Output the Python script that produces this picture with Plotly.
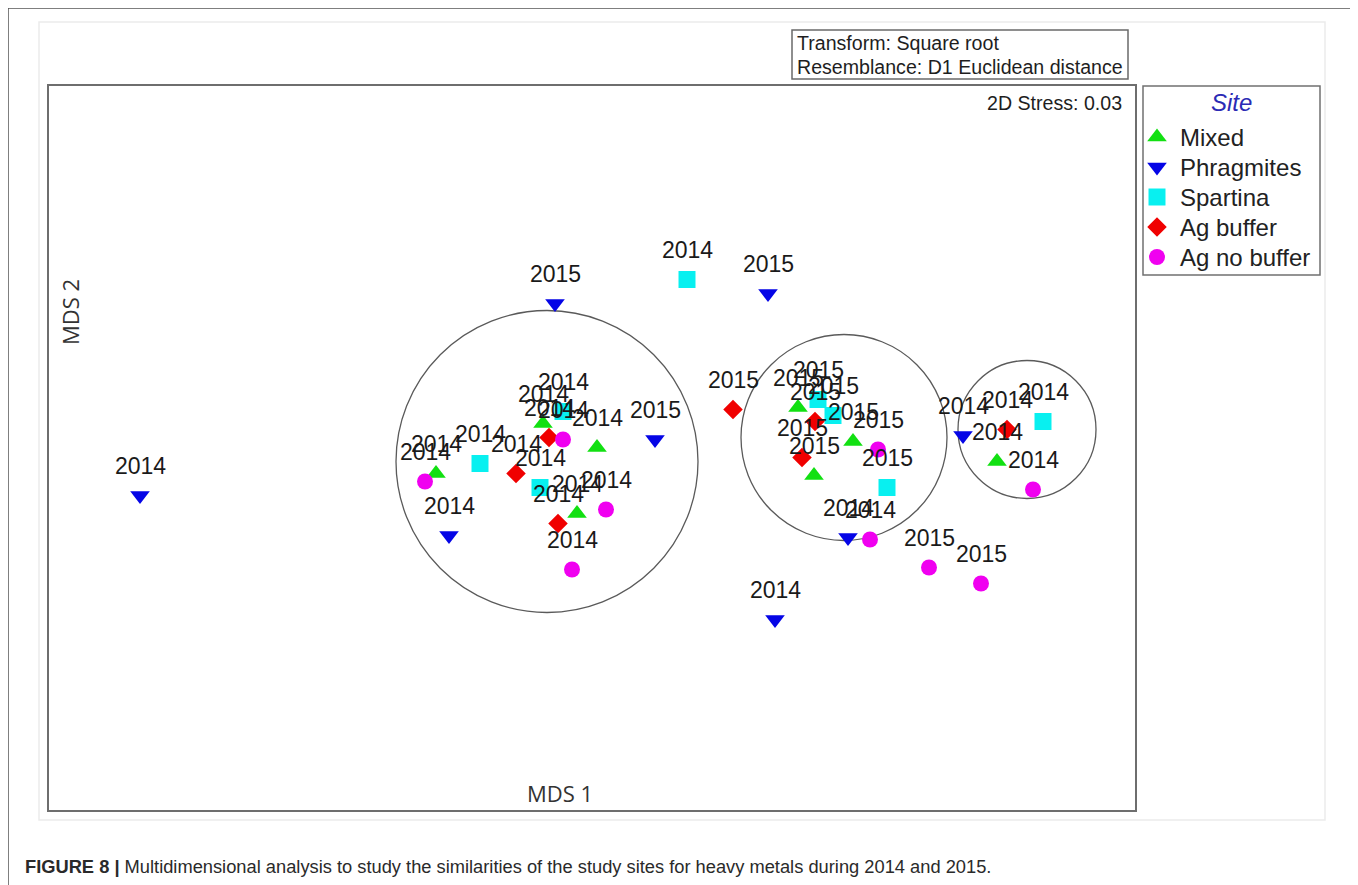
import plotly.graph_objects as go

# ---------------- data (MDS coordinates, arbitrary units) ----------------
mixed_x = [-0.78, -0.245, 0.025, -0.075, 1.03, 1.305, 1.11, 2.025]
mixed_y = [-0.13, 0.12, 0.00, -0.33, 0.20, 0.03, -0.14, -0.07]
mixed_year = ["2014", "2014", "2014", "2014", "2015", "2015", "2015", "2014"]

phrag_x = [-2.26, -0.185, 0.88, 0.315, -0.715, 0.915, 1.28, 1.855]
phrag_y = [-0.24, 0.72, 0.77, 0.04, -0.44, -0.86, -0.45, 0.06]
phrag_year = ["2014", "2015", "2015", "2015", "2014", "2014", "2014", "2014"]

spart_x = [0.475, -0.56, -0.145, -0.26, 1.13, 1.205, 1.475, 2.255]
spart_y = [0.84, -0.08, 0.18, -0.20, 0.24, 0.16, -0.20, 0.13]
spart_year = ["2014", "2014", "2014", "2014", "2015", "2015", "2015", "2014"]

agbuf_x = [0.705, -0.215, -0.38, -0.17, 1.115, 1.05, 2.075]
agbuf_y = [0.19, 0.05, -0.13, -0.38, 0.13, -0.05, 0.09]
agbuf_year = ["2015", "2014", "2014", "2014", "2015", "2015", "2014"]

agnob_x = [-0.835, -0.145, 0.07, -0.10, 1.43, 1.39, 1.685, 1.945, 2.205]
agnob_y = [-0.17, 0.04, -0.31, -0.61, -0.01, -0.46, -0.60, -0.68, -0.21]
agnob_year = ["2014", "2014", "2014", "2014", "2015", "2014", "2015", "2015", "2014"]

# cluster circles: centre x, centre y, radius (MDS units)
circle_cx = [-0.225, 1.26, 2.175]
circle_cy = [-0.07, 0.05, 0.09]
circle_r = [0.755, 0.515, 0.345]

site_names = ["Mixed", "Phragmites", "Spartina", "Ag buffer", "Ag no buffer"]

# ---------------- style ----------------
series = [
    (site_names[0], mixed_x, mixed_y, mixed_year, "triangle-up", "#12e012", 17),
    (site_names[1], phrag_x, phrag_y, phrag_year, "triangle-down", "#0505e6", 17),
    (site_names[2], spart_x, spart_y, spart_year, "square", "#08f0f0", 17),
    (site_names[3], agbuf_x, agbuf_y, agbuf_year, "diamond", "#f00000", 15),
    (site_names[4], agnob_x, agnob_y, agnob_year, "circle", "#f000f0", 16),
]

OFF = 8                      # page body margin
W, H = 1358 - OFF, 885 - OFF


def px(xp):
    return (xp - OFF) / W


def py(yp):
    return 1 - (yp - OFF) / H


fig = go.Figure()
annotations = []
shapes = []

# ---------------- data marks ----------------
for name, xs, ys, yrs, sym, col, sz in series:
    fig.add_trace(go.Scatter(
        x=xs, y=ys, mode="markers", name=name, showlegend=False,
        xaxis="x", yaxis="y",
        marker=dict(symbol=sym, color=col, size=sz, line=dict(width=0)),
        hoverinfo="skip",
    ))
    for xv, yv, t in zip(xs, ys, yrs):
        annotations.append(dict(
            x=xv, y=yv, xref="x", yref="y", text=t, showarrow=False,
            yshift=30, font=dict(family="Arial, Liberation Sans", size=23, color="#1a1a1a"),
        ))

for cx, cy, r in zip(circle_cx, circle_cy, circle_r):
    shapes.append(dict(type="circle", xref="x", yref="y",
                       x0=cx - r, x1=cx + r, y0=cy - r, y1=cy + r,
                       line=dict(color="#5a5a5a", width=1.3), layer="below"))

# ---------------- legend (drawn in its own small axes) ----------------
LEG_L, LEG_R, LEG_T, LEG_B = 1143, 1320, 86, 275
leg_w, leg_h = LEG_R - LEG_L, LEG_B - LEG_T
for i, (name, xs, ys, yrs, sym, col, sz) in enumerate(series):
    yy = 51 + 30 * i
    fig.add_trace(go.Scatter(
        x=[14], y=[yy], mode="markers", showlegend=False, xaxis="x2", yaxis="y2",
        marker=dict(symbol=sym, color=col, size=sz, line=dict(width=0)), hoverinfo="skip",
    ))
    annotations.append(dict(x=35, y=yy, xref="x2", yref="y2", xanchor="left", yanchor="middle",
                            text=name, showarrow=False,
                            font=dict(family="Arial, Liberation Sans", size=24, color="#222222")))
annotations.append(dict(x=leg_w / 2, y=16, xref="x2", yref="y2", xanchor="center", yanchor="middle",
                        text="<i>Site</i>", showarrow=False,
                        font=dict(family="Arial, Liberation Sans", size=24, color="#2b2bb5")))
shapes.append(dict(type="rect", xref="paper", yref="paper",
                   x0=px(LEG_L), x1=px(LEG_R), y0=py(LEG_B), y1=py(LEG_T),
                   line=dict(color="#707070", width=1.5), layer="below"))

# ---------------- decorations ----------------
shapes.append(dict(type="rect", xref="paper", yref="paper",
                   x0=px(39), x1=px(1325), y0=py(820), y1=py(22),
                   line=dict(color="#ebebeb", width=1.5), layer="below"))
for (a, b), (c, d) in [((8, 8), (1355, 8)), ((8, 8), (8, 885)), ((1355, 8), (1355, 885))]:
    shapes.append(dict(type="line", xref="paper", yref="paper",
                       x0=px(a), y0=py(b), x1=px(c), y1=py(d),
                       line=dict(color="#555555", width=1.5)))
shapes.append(dict(type="rect", xref="paper", yref="paper",
                   x0=px(792), x1=px(1128), y0=py(79), y1=py(30),
                   line=dict(color="#6a6a6a", width=1.5), fillcolor="white"))

txt_font = dict(family="Arial, Liberation Sans", size=19.6, color="#1e1e1e")
annotations += [
    dict(x=px(795), y=py(43), xref="paper", yref="paper", xanchor="left", yanchor="middle",
         text="Transform: Square root", showarrow=False, font=txt_font),
    dict(x=px(795), y=py(67), xref="paper", yref="paper", xanchor="left", yanchor="middle",
         text="Resemblance: D1 Euclidean distance", showarrow=False, font=txt_font),
    dict(x=px(1124), y=py(103), xref="paper", yref="paper", xanchor="right", yanchor="middle",
         text="2D Stress: 0.03", showarrow=False, font=txt_font),
    dict(x=px(560), y=py(793), xref="paper", yref="paper", xanchor="center", yanchor="middle",
         text="MDS 1", showarrow=False,
         font=dict(family="Open Sans, Arial", size=22, color="#333333")),
    dict(x=px(70), y=py(312), xref="paper", yref="paper", xanchor="center", yanchor="middle",
         text="MDS 2", showarrow=False, textangle=-90,
         font=dict(family="Open Sans, Arial", size=22, color="#333333")),
    dict(x=px(23), y=py(866), xref="paper", yref="paper", xanchor="left", yanchor="middle",
         text="<b>FIGURE 8 |</b> Multidimensional analysis to study the similarities of the study sites for heavy metals during 2014 and 2015.",
         showarrow=False, font=dict(family="Arial, Liberation Sans", size=18.3, color="#2a2a2a")),
]

axis_common = dict(showgrid=False, zeroline=False, showticklabels=False, ticks="",
                   showline=True, mirror=True, linecolor="#6e6e6e", linewidth=2, fixedrange=True)
hidden_axis = dict(showgrid=False, zeroline=False, showticklabels=False, ticks="",
                   showline=False, fixedrange=True)

fig.update_layout(
    width=W, height=H,
    margin=dict(l=0, r=0, t=0, b=0, pad=0, autoexpand=False),
    paper_bgcolor="white", plot_bgcolor="rgba(0,0,0,0)",
    xaxis=dict(domain=[px(49), px(1135)], range=[-2.715, 2.715], **axis_common),
    yaxis=dict(domain=[py(810), py(86)], range=[-1.8125, 1.8075], **axis_common),
    xaxis2=dict(domain=[px(LEG_L), px(LEG_R)], range=[0, leg_w], anchor="y2", **hidden_axis),
    yaxis2=dict(domain=[py(LEG_B), py(LEG_T)], range=[leg_h, 0], anchor="x2", **hidden_axis),
    shapes=shapes,
    annotations=annotations,
    showlegend=False,
)

fig.write_html("out.html")
